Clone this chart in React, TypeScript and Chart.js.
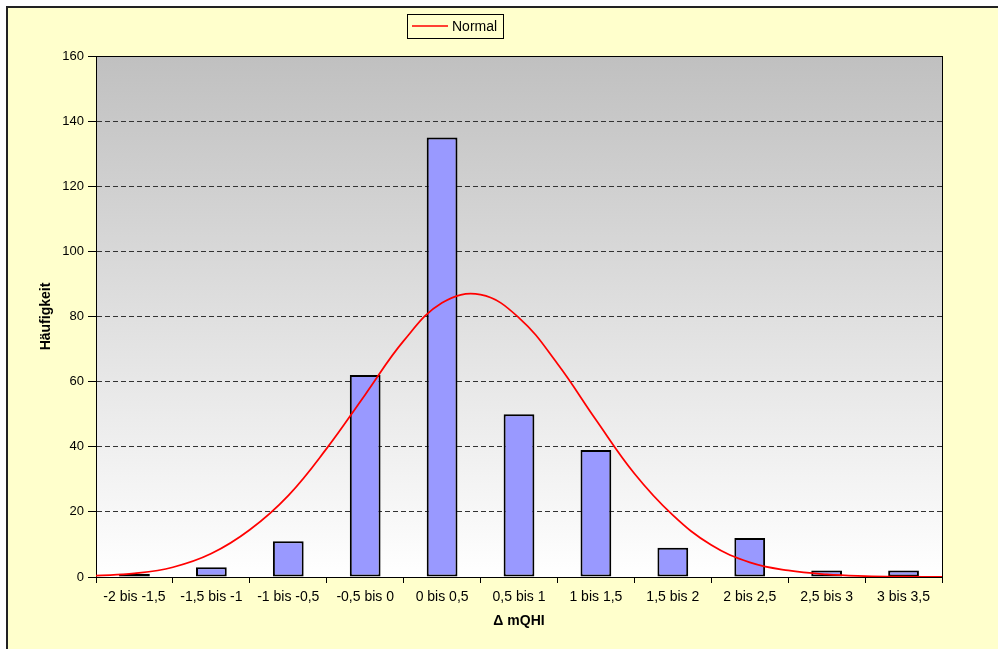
import { useEffect, useRef } from 'react';
import { Chart, registerables } from 'chart.js';

Chart.register(...registerables);

const categories = [
  '-2 bis -1,5', '-1,5 bis -1', '-1 bis -0,5', '-0,5 bis 0', '0 bis 0,5',
  '0,5 bis 1', '1 bis 1,5', '1,5 bis 2', '2 bis 2,5', '2,5 bis 3', '3 bis 3,5',
];
const frequencies = [1, 3, 11, 62, 135, 50, 39, 9, 12, 2, 2];

const normalX = [
  -2, -1.75, -1.5, -1.25, -1, -0.75, -0.5, -0.25, 0, 0.25, 0.5, 0.75,
  1, 1.25, 1.5, 1.75, 2, 2.25, 2.5, 2.75, 3, 3.25, 3.5,
];
const normalY = [
  0.4, 1.1, 3.0, 7.2, 14.5, 25, 39.5, 56, 72.5, 84.2, 86.7, 79.6,
  65.5, 48.3, 31.8, 19, 9.8, 4.5, 2.0, 0.8, 0.3, 0.1, 0.03,
];

const yMin = 0;
const yMax = 160;
const yStep = 20;

const FONT = 'Arial, "Liberation Sans", sans-serif';

export default function App() {
  const ref = useRef<HTMLCanvasElement | null>(null);

  useEffect(() => {
    if (!ref.current) return;

    const bgPlugin = {
      id: 'plotBg',
      beforeDraw(chart: any) {
        const { ctx, chartArea: a } = chart;
        const g = ctx.createLinearGradient(0, a.top, 0, a.bottom);
        g.addColorStop(0, '#C0C0C0');
        g.addColorStop(1, '#FFFFFF');
        ctx.save();
        ctx.fillStyle = g;
        ctx.fillRect(a.left, a.top, a.right - a.left, a.bottom - a.top);
        ctx.restore();
      },
      beforeDatasetsDraw(chart: any) {
        const { ctx, chartArea: a } = chart;
        ctx.save();
        ctx.strokeStyle = '#000';
        ctx.lineWidth = 1;
        ctx.setLineDash([]);
        ctx.strokeRect(Math.round(a.left) + 0.5, Math.round(a.top) + 0.5, Math.round(a.right - a.left), Math.round(a.bottom - a.top));
        ctx.restore();
      },
      afterDraw(chart: any) {
        const { ctx } = chart;
        ctx.save();
        ctx.strokeStyle = '#000';
        ctx.lineWidth = 1;
        ctx.strokeRect(399.5, 6.5, 96, 24);
        ctx.strokeStyle = '#FF0000';
        ctx.lineWidth = 1.5;
        ctx.beginPath();
        ctx.moveTo(404, 18);
        ctx.lineTo(440, 18);
        ctx.stroke();
        ctx.fillStyle = '#000';
        ctx.font = '14px ' + FONT;
        ctx.textBaseline = 'middle';
        ctx.textAlign = 'left';
        ctx.fillText('Normal', 444, 19);
        ctx.restore();
      },
    };

    const chart = new Chart(ref.current, {
      type: 'bar',
      data: {
        labels: categories,
        datasets: [
          {
            type: 'line',
            label: 'Normal',
            data: normalX.map((x, i) => ({ x, y: normalY[i] })),
            xAxisID: 'x2',
            borderColor: '#FF0000',
            borderWidth: 1.75,
            pointRadius: 0,
            fill: false,
            tension: 0.4,
            order: 0,
          } as any,
          {
            type: 'bar',
            label: 'Häufigkeit',
            data: frequencies,
            xAxisID: 'x',
            backgroundColor: '#9999FF',
            borderColor: '#000000',
            borderWidth: 2,
            borderSkipped: false,
            grouped: false,
            barPercentage: 0.4,
            categoryPercentage: 1,
            order: 1,
          } as any,
        ],
      },
      options: {
        responsive: false,
        animation: false,
        events: [],
        layout: { padding: { top: 48, right: 56, left: 0, bottom: 0 } },
        plugins: {
          legend: { display: false },
          tooltip: { enabled: false },
        },
        scales: {
          x: {
            type: 'category',
            offset: true,
            grid: {
              offset: true,
              drawOnChartArea: false,
              drawTicks: true,
              tickLength: 6,
              color: '#000',
              tickColor: '#000',
            },
            border: { display: true, color: '#000', width: 1 },
            ticks: {
              color: '#000',
              font: { family: FONT, size: 14 },
              padding: 6,
              maxRotation: 0,
              autoSkip: false,
            },
            title: {
              display: true,
              text: 'Δ mQHI',
              color: '#000',
              font: { family: FONT, size: 14, weight: 'bold' },
              padding: { top: 0, bottom: 19 },
            },
            afterFit: (s: any) => { s.height = 72; },
          },
          x2: {
            type: 'linear',
            display: false,
            offset: false,
            grid: { offset: false },
            min: normalX[0],
            max: normalX[normalX.length - 1],
          },
          y: {
            min: yMin,
            max: yMax,
            ticks: {
              stepSize: yStep,
              color: '#000',
              font: { family: FONT, size: 13 },
              padding: 4,
            },
            grid: {
              color: '#333',
              lineWidth: 1,
              tickLength: 8,
              tickColor: '#000',
              tickBorderDash: [],
              borderDash: [5, 3],
            } as any,
            border: { display: true, color: '#000', width: 1, dash: [5, 3] } as any,
            title: {
              display: true,
              text: 'Häufigkeit',
              color: '#000',
              font: { family: FONT, size: 14, weight: 'bold' },
              padding: { top: 30, bottom: 0 },
            },
            afterFit: (s: any) => { s.width = 88; },
          },
        },
      } as any,
      plugins: [bgPlugin],
    });

    return () => chart.destroy();
  }, []);

  return (
    <div
      style={{
        position: 'fixed',
        left: 6,
        top: 6,
        right: 0,
        bottom: 0,
        borderLeft: '2px solid #222',
        borderTop: '2px solid #222',
        background: '#FFFFCC',
      }}
    >
      <canvas ref={ref} width={990} height={641} style={{ display: 'block', width: 990, height: 641 }} />
    </div>
  );
}
